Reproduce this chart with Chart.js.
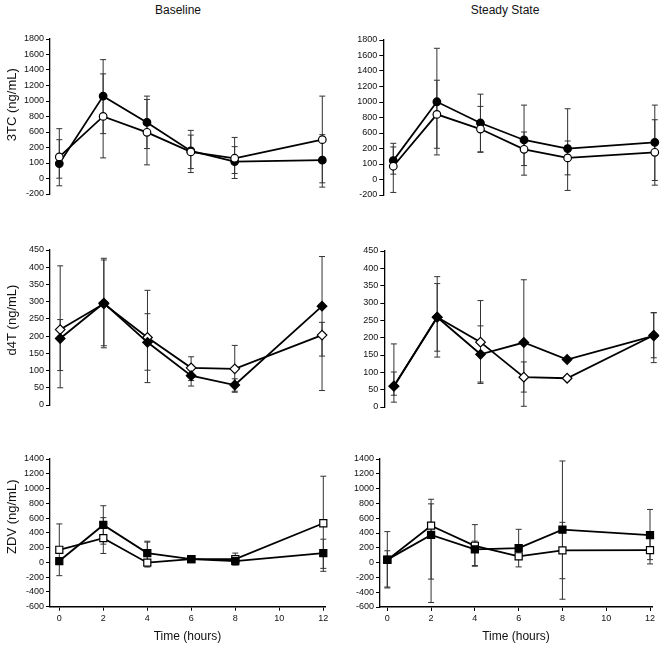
<!DOCTYPE html>
<html>
<head>
<meta charset="utf-8">
<script src="https://cdn.jsdelivr.net/npm/chart.js@4.4.1/dist/chart.umd.min.js"></script>
<style>
  body { margin: 0; background: #fff; width: 664px; height: 649px; position: relative; overflow: hidden;
         font-family: "Liberation Sans", Arial, Helvetica, sans-serif; }
  canvas { position: absolute; }
  .head { position: absolute; top: 3px; font-size: 12px; color: #111; transform: translateX(-50%); white-space: nowrap; }
</style>
</head>
<body>
<div class="head" style="left:178px">Baseline</div>
<div class="head" style="left:505px">Steady State</div>
<canvas id="p1"></canvas>
<canvas id="p2"></canvas>
<canvas id="p3"></canvas>
<canvas id="p4"></canvas>
<canvas id="p5"></canvas>
<canvas id="p6"></canvas>
<script>
// sampling times (hours)
const times = [0, 2, 4, 6, 8, 12];

// 3TC - baseline
const tcBaseClosed = [193, 1063, 724, 356, 219, 236];
const tcBaseOpen = [279, 801, 596, 343, 261, 501];
const tcBaseClosedErr = [[4, 501], [579, 1534], [386, 1063], [77, 621], [64, 411], [-111, 566]];
const tcBaseOpenErr = [[-94, 643], [266, 1350], [176, 1020], [128, 560], [0, 530], [-56, 1063]];

// 3TC - steady state
const tcSteadyClosed = [244, 1003, 729, 510, 399, 480];
const tcSteadyOpen = [171, 840, 651, 390, 279, 351];
const tcSteadyClosedErr = [[69, 420], [317, 1693], [357, 1101], [56, 960], [-141, 913], [-13, 960]];
const tcSteadyOpenErr = [[-167, 467], [403, 1281], [351, 943], [180, 613], [60, 497], [-73, 771]];

// tick labels of the 3TC axis, as printed (-200 .. 1800)
const tcTickLabels = ['-200', '0', '100', '200', '600', '800', '1000', '1200', '1400', '1600', '1800'];

// d4T - baseline
const d4tBaseClosed = [193, 296, 182, 85, 58, 287];
const d4tBaseOpen = [219, 294, 196, 108, 105, 203];
const d4tBaseClosedErr = [[100, 248], [166, 421], [101, 265], [55, 115], [40, 76], [142, 431]];
const d4tBaseOpenErr = [[50, 404], [172, 426], [65, 333], [71, 140], [37, 173], [42, 240]];

// d4T - steady state
const d4tSteadyClosed = [60, 259, 152, 186, 137, 205];
const d4tSteadyOpen = [60, 259, 187, 86, 83, 207];
const d4tSteadyClosedErr = [[14, 101], [144, 376], [72, 234], [2, 367], null, [142, 272]];
const d4tSteadyOpenErr = [[34, 182], [161, 356], [68, 307], [43, 130], null, [128, 272]];

// ZDV - baseline
const zdvBaseClosed = [18, 507, 126, 45, 18, 126];
const zdvBaseOpen = [171, 328, -4, 45, 45, 530];
const zdvBaseClosedErr = [null, [247, 767], [-35, 287], null, [-36, 72], [-81, 314]];
const zdvBaseOpenErr = [[-180, 521], [121, 606], [-63, 274], null, [-20, 126], [-121, 1167]];

// ZDV - steady state
const zdvSteadyClosed = [40, 374, 178, 196, 446, 370];
const zdvSteadyOpen = [36, 499, 227, 85, 165, 169];
const zdvSteadyClosedErr = [[-343, 419], [-539, 794], [-49, 290], [-58, 450], [-495, 1373], [40, 718]];
const zdvSteadyOpenErr = [[-330, 160], [-223, 856], [-40, 513], null, [-218, 544], [-18, 330]];

// draws vertical error bars with caps, under the markers
const errorBars = {
  id: 'errorBars',
  beforeDatasetsDraw(chart) {
    const ctx = chart.ctx;
    const ys = chart.scales.y;
    ctx.save();
    ctx.strokeStyle = '#333';
    ctx.lineWidth = 1;
    chart.data.datasets.forEach((ds, di) => {
      const meta = chart.getDatasetMeta(di);
      ds.errors.forEach((e, i) => {
        if (!e) return;
        const x = meta.data[i].x;
        const top = ys.getPixelForValue(e[1]);
        const bot = ys.getPixelForValue(e[0]);
        ctx.beginPath();
        ctx.moveTo(x, top); ctx.lineTo(x, bot);
        ctx.moveTo(x - 3, top); ctx.lineTo(x + 3, top);
        ctx.moveTo(x - 3, bot); ctx.lineTo(x + 3, bot);
        ctx.stroke();
      });
    });
    ctx.restore();
  }
};

// rotated axis title at a free position
const sideTitle = {
  id: 'sideTitle',
  afterDraw(chart, args, opts) {
    if (!opts.text) return;
    const ctx = chart.ctx;
    ctx.save();
    ctx.translate(opts.x, opts.y);
    ctx.rotate(-Math.PI / 2);
    ctx.font = '13px "Liberation Sans", Arial, sans-serif';
    ctx.fillStyle = '#111';
    ctx.textAlign = 'center';
    ctx.textBaseline = 'middle';
    ctx.fillText(opts.text, 0, 0);
    ctx.restore();
  }
};

function series(values, errors, style, filled) {
  return {
    data: times.map((t, i) => ({ x: t, y: values[i] })),
    errors: errors,
    borderColor: '#000',
    borderWidth: 1.8,
    tension: 0,
    pointStyle: style,
    pointRadius: style === 'circle' ? 3.8 : (style === 'rect' ? 5 : 4.8),
    pointBackgroundColor: filled ? '#000' : '#fff',
    pointBorderColor: '#000',
    pointBorderWidth: 1.2,
    clip: false
  };
}

function makePanel(id, p) {
  const showX = !!p.showX;
  const colLeft = p.col === 'left' ? 0 : 332;
  const colW = 332;
  const top = p.area.t - 8;
  const height = showX ? 649 - top : (p.area.b - p.area.t) + 16;
  const canvas = document.getElementById(id);
  canvas.width = colW;
  canvas.height = height;
  canvas.style.left = colLeft + 'px';
  canvas.style.top = top + 'px';

  const span = p.x12 - p.x0;
  const xMin = (p.area.l - p.x0) / span * 12;
  const xMax = (p.area.r - p.x0) / span * 12;

  new Chart(canvas.getContext('2d'), {
    type: 'line',
    data: { datasets: p.datasets },
    options: {
      responsive: false,
      animation: false,
      layout: {
        padding: { left: 0, top: 8, right: colLeft + colW - p.area.r, bottom: showX ? 0 : 8 }
      },
      scales: {
        x: {
          type: 'linear',
          display: showX,
          min: xMin,
          max: xMax,
          afterFit: (scale) => { if (showX) scale.height = height - (p.area.b - top); },
          border: { display: true, color: '#000', width: 1.6 },
          grid: { drawOnChartArea: false, drawTicks: true, tickLength: 4, color: '#000' },
          ticks: {
            stepSize: 2,
            includeBounds: false,
            color: '#111',
            padding: 2,
            maxRotation: 0,
            font: { size: 9, family: '"Liberation Sans", Arial, sans-serif' }
          },
          title: {
            display: showX,
            text: 'Time (hours)',
            color: '#111',
            padding: { top: 5 },
            font: { size: 12, family: '"Liberation Sans", Arial, sans-serif' }
          }
        },
        y: {
          min: p.yMin,
          max: p.yMax,
          afterFit: (scale) => { scale.width = p.area.l - colLeft; },
          border: { display: true, color: '#000', width: 1.3 },
          grid: { drawOnChartArea: false, drawTicks: true, tickLength: 4, color: '#000' },
          ticks: {
            stepSize: p.step,
            color: '#111',
            padding: 2,
            font: { size: 9, family: '"Liberation Sans", Arial, sans-serif' },
            callback: p.tickLabels ? (value, index) => p.tickLabels[index] : (value) => value
          }
        }
      },
      plugins: {
        legend: { display: false },
        tooltip: { enabled: false },
        sideTitle: { text: p.title || '', x: 12, y: p.titleY - top }
      }
    },
    plugins: [errorBars, sideTitle]
  });
}

makePanel('p1', {
  col: 'left', area: { l: 50, t: 39.3, r: 326, b: 195 }, x0: 59.3, x12: 322.3,
  yMin: -200, yMax: 1800, step: 200, tickLabels: tcTickLabels,
  title: '3TC (ng/mL)', titleY: 105,
  datasets: [series(tcBaseOpen, tcBaseOpenErr, 'circle', false), series(tcBaseClosed, tcBaseClosedErr, 'circle', true)]
});
makePanel('p2', {
  col: 'right', area: { l: 383.3, t: 40, r: 659, b: 195.7 }, x0: 393.3, x12: 655,
  yMin: -200, yMax: 1800, step: 200, tickLabels: tcTickLabels,
  datasets: [series(tcSteadyOpen, tcSteadyOpenErr, 'circle', false), series(tcSteadyClosed, tcSteadyClosedErr, 'circle', true)]
});
makePanel('p3', {
  col: 'left', area: { l: 50, t: 250, r: 329, b: 405.7 }, x0: 60.3, x12: 325,
  yMin: 0, yMax: 450, step: 50,
  title: 'd4T (ng/mL)', titleY: 320,
  datasets: [series(d4tBaseClosed, d4tBaseClosedErr, 'rectRot', true), series(d4tBaseOpen, d4tBaseOpenErr, 'rectRot', false)]
});
makePanel('p4', {
  col: 'right', area: { l: 384.3, t: 250.7, r: 661, b: 406.7 }, x0: 394, x12: 656.7,
  yMin: 0, yMax: 450, step: 50,
  datasets: [series(d4tSteadyClosed, d4tSteadyClosedErr, 'rectRot', true), series(d4tSteadyOpen, d4tSteadyOpenErr, 'rectRot', false)]
});
makePanel('p5', {
  col: 'left', area: { l: 50, t: 459.3, r: 325, b: 607.7 }, x0: 59.3, x12: 323.3,
  yMin: -600, yMax: 1400, step: 200, showX: true,
  title: 'ZDV (ng/mL)', titleY: 517,
  datasets: [series(zdvBaseClosed, zdvBaseClosedErr, 'rect', true), series(zdvBaseOpen, zdvBaseOpenErr, 'rect', false)]
});
makePanel('p6', {
  col: 'right', area: { l: 380, t: 459.3, r: 652, b: 608 }, x0: 387.3, x12: 650,
  yMin: -600, yMax: 1400, step: 200, showX: true,
  datasets: [series(zdvSteadyClosed, zdvSteadyClosedErr, 'rect', true), series(zdvSteadyOpen, zdvSteadyOpenErr, 'rect', false)]
});
</script>
</body>
</html>
